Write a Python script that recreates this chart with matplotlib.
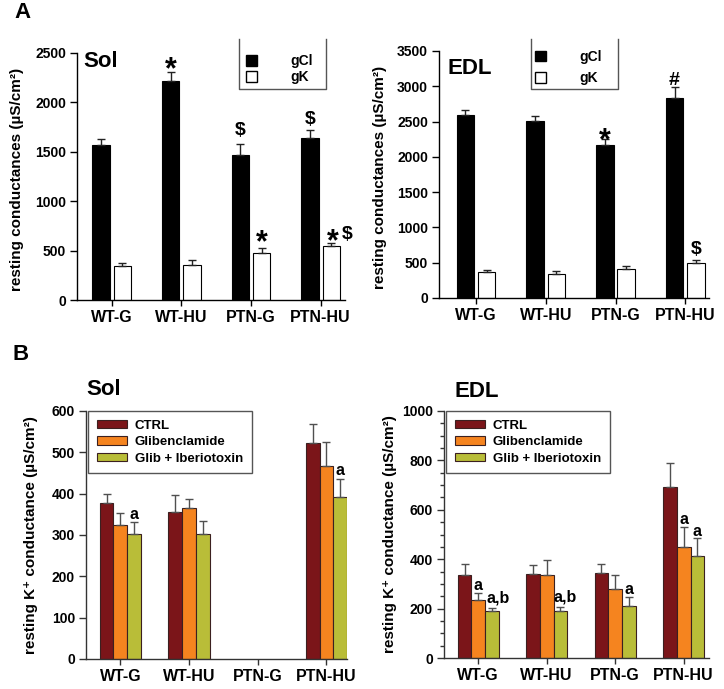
import numpy as np
import matplotlib
matplotlib.use("Agg")
import matplotlib.pyplot as plt
from matplotlib.patches import Patch
from matplotlib.ticker import MultipleLocator

plt.rcParams['font.family'] = ['Liberation Sans', 'DejaVu Sans']
plt.rcParams['font.weight'] = 'bold'

groups = ['WT-G', 'WT-HU', 'PTN-G', 'PTN-HU']

# panel A - soleus
sol_gcl = [1565, 2217, 1469, 1637]
sol_gcl_err = [68, 91, 106, 81]
sol_gk = [347, 358, 478, 546]
sol_gk_err = [24, 45, 51, 35]

# panel A - EDL
edl_gcl = [2598, 2508, 2163, 2839]
edl_gcl_err = [71, 66, 95, 151]
edl_gk = [368, 345, 416, 496]
edl_gk_err = [33, 33, 33, 47]

# panel B - soleus (no PTN-G data)
nan = np.nan
sol_ctrl = [377, 355, nan, 522]
sol_ctrl_err = [22, 42, nan, 46]
sol_glib = [325, 365, nan, 467]
sol_glib_err = [29, 22, nan, 57]
sol_ibtx = [302, 303, nan, 393]
sol_ibtx_err = [29, 30, nan, 43]

# panel B - EDL
edl_ctrl = [338, 342, 346, 693]
edl_ctrl_err = [42, 34, 34, 97]
edl_glib = [235, 337, 278, 448]
edl_glib_err = [27, 59, 58, 81]
edl_ibtx = [191, 192, 212, 413]
edl_ibtx_err = [13, 16, 33, 74]

treatments = ['CTRL', 'Glibenclamide', 'Glib + Iberiotoxin']
treat_colors = ['#7b1519', '#f5841f', '#b9bd38']

W, H = 724., 689.
fig = plt.figure(figsize=(W / 100, H / 100), dpi=100)


def px_axes(left, top, right, bottom):
    return fig.add_axes([left / W, 1 - bottom / H, (right - left) / W, (bottom - top) / H])


def mark(ax, x, y, s, size, dy, dx=0):
    # dy/dx in pixels
    ax.annotate(s, (x, y), xytext=(dx * 0.72, dy * 0.72), textcoords='offset points',
                ha='center', va='center', fontsize=size, fontweight='bold')


def style_axes(ax, spine_col):
    for s in ['top', 'right']:
        ax.spines[s].set_visible(False)
    for s in ['left', 'bottom']:
        ax.spines[s].set_color(spine_col)
        ax.spines[s].set_linewidth(1)
    ax.tick_params(axis='y', direction='out', length=5, width=1, pad=3, labelsize=10, colors=spine_col,
                   labelcolor='black')
    ax.tick_params(axis='x', direction='out', length=4, width=1, pad=3, labelsize=11.5, colors=spine_col,
                   labelcolor='black')
    for lab in ax.get_xticklabels() + ax.get_yticklabels():
        lab.set_fontweight('bold')


def conductance_panel(ax, gcl, gcl_err, gk, gk_err, ymax, xlim):
    x = np.arange(len(groups))
    off, w = 0.153, 0.25
    z = np.zeros(len(groups))
    ax.bar(x - off, gcl, w, color='black', edgecolor='black', lw=0.8, label='gCl')
    ax.bar(x + off, gk, w, color='white', edgecolor='black', lw=0.8, label='gK')
    ax.errorbar(x - off, gcl, yerr=[z, gcl_err], fmt='none', ecolor='#222222', elinewidth=1,
                capsize=3.2, capthick=1)
    ax.errorbar(x + off, gk, yerr=[z, gk_err], fmt='none', ecolor='#222222', elinewidth=1,
                capsize=3.2, capthick=1)
    ax.set_xlim(*xlim)
    ax.set_ylim(0, ymax)
    ax.set_yticks(np.arange(0, ymax + 1, 500))
    ax.set_xticks(x)
    ax.set_xticklabels(groups)
    style_axes(ax, 'black')
    ax.set_ylabel('resting conductances (µS/cm²)', fontsize=11, fontweight='bold')
    return x - off, x + off


def k_panel(ax, series, errs, ymax, major, minor, xlim):
    x = np.arange(len(groups))
    w = 0.2
    z = np.zeros(len(groups))
    pos = []
    for i, (vals, err, col, lab) in enumerate(zip(series, errs, treat_colors, treatments)):
        xp = x + (i - 1) * w
        ax.bar(xp, vals, w, color=col, edgecolor='#3b2020', lw=0.8, label=lab)
        ax.errorbar(xp, vals, yerr=[z, err], fmt='none', ecolor='#505050', elinewidth=1,
                    capsize=3.2, capthick=1)
        pos.append(xp)
    ax.set_xlim(*xlim)
    ax.set_ylim(0, ymax)
    ax.yaxis.set_major_locator(MultipleLocator(major))
    if minor:
        ax.yaxis.set_minor_locator(MultipleLocator(minor))
        ax.tick_params(axis='y', which='minor', length=3, width=1, colors='#333333')
    ax.set_xticks(x)
    ax.set_xticklabels(groups)
    style_axes(ax, '#333333')
    ax.set_ylabel('resting K⁺ conductance (µS/cm²)', fontsize=11, fontweight='bold')
    leg = ax.legend(loc='upper left', bbox_to_anchor=(0.008, 1.0), borderaxespad=0, fancybox=False,
                    edgecolor='#555555', fontsize=9.5, handlelength=2.3, handleheight=0.6,
                    handletextpad=0.6, labelspacing=0.35, borderpad=0.65, framealpha=1)
    leg.get_frame().set_linewidth(1)
    return pos


def open_legend(ax, box, anchor, spacing):
    handles = [Patch(facecolor='black', edgecolor='black'),
               Patch(facecolor='white', edgecolor='black')]
    ax.legend(handles, ['gCl', 'gK'], loc='upper left', bbox_to_anchor=anchor, borderaxespad=0,
              borderpad=0, frameon=False, fontsize=10, handlelength=0.8, handleheight=0.8,
              handletextpad=2.4, labelspacing=spacing)
    x0, x1, y0, y1 = box
    ax.plot([x0, x0, x1, x1], [y1, y0, y0, y1], transform=ax.transAxes, color='#555555',
            lw=1, clip_on=False)


# ---- A: Sol
ax1 = px_axes(77, 53, 345, 300)
gcl_x, gk_x = conductance_panel(ax1, sol_gcl, sol_gcl_err, sol_gk, sol_gk_err, 2500, (-0.5, 3.35))
ax1.yaxis.set_label_coords(-0.198, 0.49)
ax1.text(0.022, 0.964, 'Sol', transform=ax1.transAxes, fontsize=16, fontweight='bold', va='center')
open_legend(ax1, (0.604, 0.929, 0.854, 1.057), (0.631, 0.995), 0.15)
top_cl = np.add(sol_gcl, sol_gcl_err)
top_k = np.add(sol_gk, sol_gk_err)
mark(ax1, gcl_x[1], top_cl[1], '*', 22, 2)
mark(ax1, gcl_x[2], top_cl[2], '$', 14, 14)
mark(ax1, gcl_x[3], top_cl[3], '$', 14, 11)
mark(ax1, gk_x[2], top_k[2], '*', 22, 4)
mark(ax1, gk_x[3], top_k[3], '*', 22, 0, 2)
mark(ax1, gk_x[3], top_k[3], '$', 14, 8, 16)

# ---- A: EDL
ax2 = px_axes(439, 51, 709, 298)
gcl_x, gk_x = conductance_panel(ax2, edl_gcl, edl_gcl_err, edl_gk, edl_gk_err, 3500, (-0.53, 3.34))
ax2.yaxis.set_label_coords(-0.193, 0.49)
ax2.text(0.033, 0.931, 'EDL', transform=ax2.transAxes, fontsize=16, fontweight='bold', va='center')
open_legend(ax2, (0.341, 0.663, 0.846, 1.049), (0.356, 1.005), 0.55)
top_cl = np.add(edl_gcl, edl_gcl_err)
top_k = np.add(edl_gk, edl_gk_err)
mark(ax2, gcl_x[2], top_cl[2], '*', 22, -3)
mark(ax2, gcl_x[3], top_cl[3], '#', 14, 6)
mark(ax2, gk_x[3], top_k[3], '$', 14, 10)

# ---- B: Sol
ax3 = px_axes(86, 411, 347, 659)
pos = k_panel(ax3, [sol_ctrl, sol_glib, sol_ibtx], [sol_ctrl_err, sol_glib_err, sol_ibtx_err],
              600, 100, None, (-0.5, 3.3))
ax3.yaxis.set_label_coords(-0.184, 0.5)
ax3.text(0.0, 1.085, 'Sol', transform=ax3.transAxes, fontsize=16, fontweight='bold', va='center')
top_i = np.add(sol_ibtx, sol_ibtx_err)
mark(ax3, pos[2][0], top_i[0], 'a', 11.5, 8)
mark(ax3, pos[2][3], top_i[3], 'a', 11.5, 8.5)

# ---- B: EDL
ax4 = px_axes(444, 411, 709, 658)
pos = k_panel(ax4, [edl_ctrl, edl_glib, edl_ibtx], [edl_ctrl_err, edl_glib_err, edl_ibtx_err],
              1000, 200, 50, (-0.5, 3.37))
ax4.yaxis.set_label_coords(-0.177, 0.5)
ax4.text(0.04, 1.077, 'EDL', transform=ax4.transAxes, fontsize=16, fontweight='bold', va='center')
top_g = np.add(edl_glib, edl_glib_err)
top_i = np.add(edl_ibtx, edl_ibtx_err)
mark(ax4, pos[1][0], top_g[0], 'a', 11.5, 8)
mark(ax4, pos[2][0], top_i[0], 'a,b', 11.5, 9.5, 6)
mark(ax4, pos[2][1], top_i[1], 'a,b', 11.5, 9.5, 5)
mark(ax4, pos[2][2], top_i[2], 'a', 11.5, 8)
mark(ax4, pos[1][3], top_g[3], 'a', 11.5, 8)
mark(ax4, pos[2][3], top_i[3], 'a', 11.5, 6)

fig.text(14 / W, 1 - 13 / H, 'A', fontsize=16, fontweight='bold', va='center')
fig.text(13 / W, 1 - 355 / H, 'B', fontsize=16, fontweight='bold', va='center')

fig.savefig('out.png', dpi=100)
